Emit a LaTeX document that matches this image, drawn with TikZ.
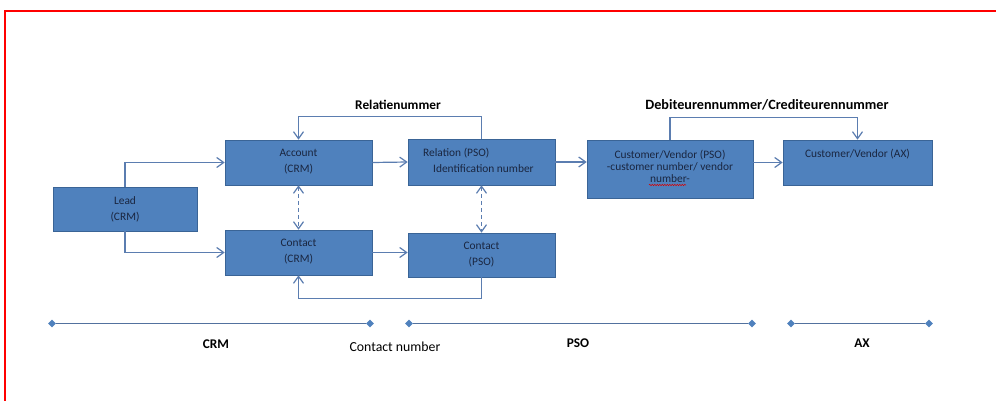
\documentclass[tikz,border=0pt]{standalone}
\usepackage{fontspec}
\setmainfont{Carlito}
\usetikzlibrary{arrows.meta,shapes.geometric,decorations.pathmorphing}
\definecolor{boxfill}{HTML}{4F81BD}
\definecolor{boxline}{HTML}{3A6496}
\definecolor{linkcol}{HTML}{5B7DB0}
\definecolor{boxtext}{HTML}{1A2640}
\definecolor{frame}{HTML}{FF0000}
\begin{document}
\begin{tikzpicture}[x=1pt,y=-1pt,
  box/.style={draw=boxline,fill=boxfill,line width=0.6pt,rectangle,inner sep=0pt},
  btext/.style={text=boxtext,font=\fontsize{11.4}{16}\selectfont,align=center,inner sep=0pt},
  link/.style={draw=linkcol,line width=1.2pt,-{Straight Barb[length=7pt,width=10pt]}},
  dlink/.style={draw=linkcol,line width=1.2pt,dashed,dash pattern=on 4pt off 3pt,{Straight Barb[length=7pt,width=10pt]}-{Straight Barb[length=7pt,width=10pt]}},
  lbl/.style={font=\bfseries\fontsize{13.3}{15}\selectfont,inner sep=0pt},
  tick/.style={diamond,fill=boxfill,inner sep=0pt,minimum width=8pt,minimum height=8pt},
  tline/.style={draw=linkcol!90!black,line width=1.4pt}]
\useasboundingbox (0,0) rectangle (996,401);
\draw[frame,line width=1.6pt] (5,401) -- (5,11) -- (996,11);

% boxes
\node[box,minimum width=144pt,minimum height=44pt] (lead) at (125,209) {};
\node[box,minimum width=147pt,minimum height=45pt] (acc) at (298.5,162.5) {};
\node[box,minimum width=147pt,minimum height=45pt] (ccrm) at (298.5,252.5) {};
\node[box,minimum width=147pt,minimum height=46pt] (rel) at (481.5,162) {};
\node[box,minimum width=147pt,minimum height=44pt] (cpso) at (481.5,255) {};
\node[box,minimum width=166pt,minimum height=58pt] (cvpso) at (670,169) {};
\node[box,minimum width=149pt,minimum height=45pt] (cvax) at (857.5,162.5) {};

% box texts
\node[btext] (tlead) at (125,209.5) {Lead\\(CRM)};
\node[btext] (tacc) at (298.5,162) {Account\\(CRM)};
\node[btext] (tccrm) at (298.5,251.5) {Contact\\(CRM)};
\node[btext] (tcpso) at (481.5,255) {Contact\\(PSO)};
\node[btext,align=left,anchor=west] (trel) at (423,160) {Relation (PSO)\\\hspace*{10pt}Identification number};
\node[btext,font=\fontsize{11.4}{12}\selectfont] (tcvpso) at (670,166) {Customer/Vendor (PSO)\\-customer number/ vendor\\number-};
\draw[red!85!black,line width=0.5pt,decorate,decoration={snake,amplitude=0.7pt,segment length=2.5pt}] (649,185) -- (686,185);
\node[btext] (tcvax) at (857.5,154) {Customer/Vendor (AX)};

% connectors
\draw[link] (lead.north) |- (acc.west);
\draw[link] (lead.south) |- (ccrm.west);
\draw[link] (acc.east) -- (rel.west);
\draw[link] (ccrm.east) -- (ccrm.east -| cpso.west);
\draw[link] (rel.east) -- (rel.east -| cvpso.west);
\draw[link] (cvpso.east |- cvax.west) -- (cvax.west);
\draw[link] (rel.north) -- ++(0,-22) -| (acc.north);
\draw[link] (cvpso.north) -- ++(0,-22) -| (cvax.north);
\draw[link] (cpso.south) -- ++(0,21) -| (ccrm.south);
\draw[dlink] (acc.south) -- (ccrm.north);
\draw[dlink] (rel.south) -- (rel.south |- cpso.north);

% labels
\node[lbl] (lrel) at (398,105) {Relatienummer};
\node[lbl,font=\bfseries\fontsize{14.2}{16}\selectfont] (ldeb) at (767,105) {Debiteurennummer/Crediteurennummer};

% timelines
\node[tick] (c1) at (52,323.5) {};
\node[tick] (c2) at (370,323.5) {};
\node[tick] (p1) at (409,323.5) {};
\node[tick] (p2) at (752,323.5) {};
\node[tick] (a1) at (791,323.5) {};
\node[tick] (a2) at (929,323.5) {};
\draw[tline] (c1) -- (c2);
\draw[tline] (p1) -- (p2);
\draw[tline] (a1) -- (a2);
\node[lbl] (lcrm) at (216,344) {CRM};
\node[font=\fontsize{13.8}{16}\selectfont,inner sep=0pt] (lcn) at (395,347) {Contact number};
\node[lbl] (lpso) at (578,343) {PSO};
\node[lbl] (lax) at (862,343) {AX};
\end{tikzpicture}
\end{document}
